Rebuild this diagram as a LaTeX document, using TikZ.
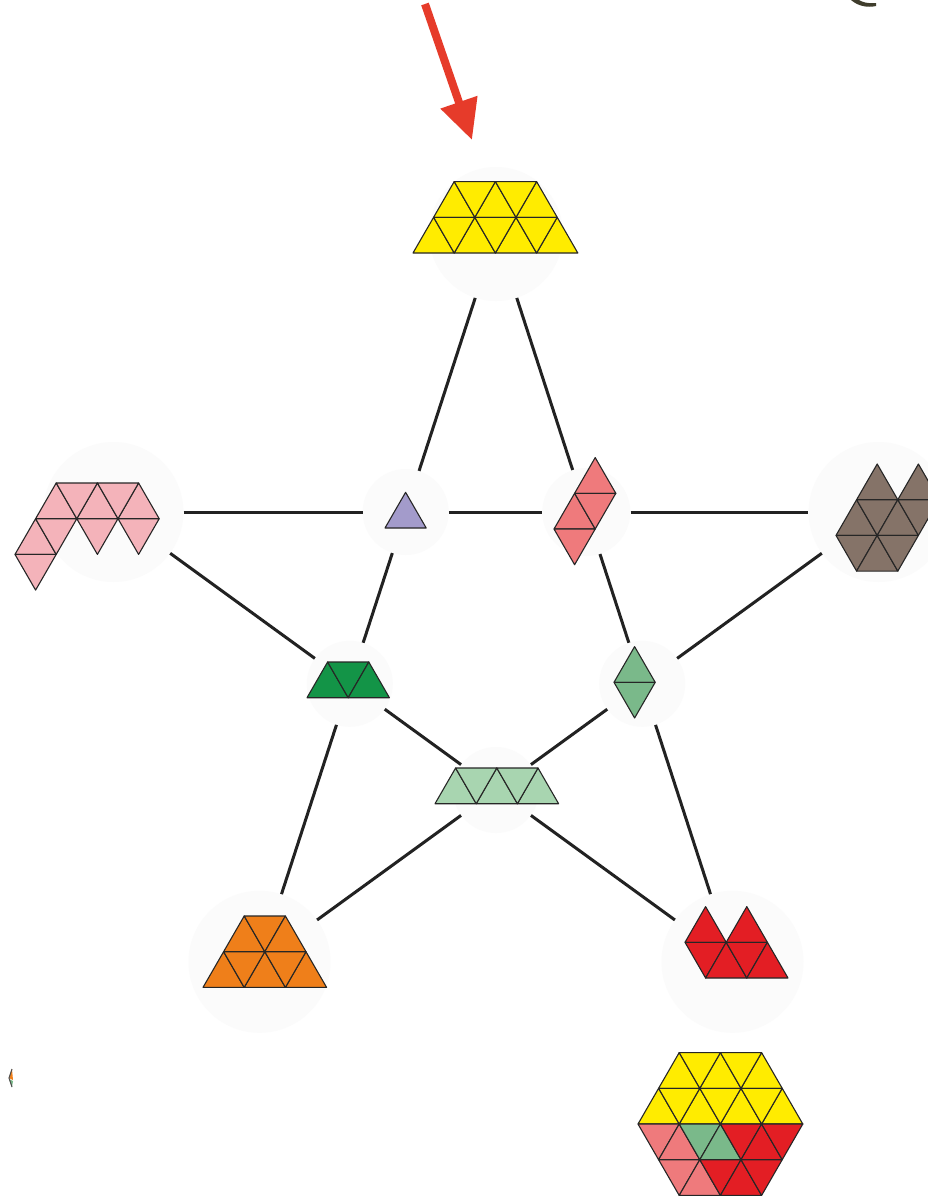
\documentclass[tikz,border=0pt]{standalone}
\usetikzlibrary{arrows.meta}
\definecolor{yel}{HTML}{FFEC00}
\definecolor{lpink}{HTML}{F4B3BA}
\definecolor{purp}{HTML}{A39BCB}
\definecolor{salmon}{HTML}{EF7A7C}
\definecolor{brn}{HTML}{857368}
\definecolor{dgreen}{HTML}{139447}
\definecolor{mgreen}{HTML}{7AB98A}
\definecolor{lgreen}{HTML}{A8D5B0}
\definecolor{orng}{HTML}{EF7F1A}
\definecolor{rd}{HTML}{E31E24}
\definecolor{arrowred}{HTML}{E63B2A}
\definecolor{linegray}{HTML}{222222}
\definecolor{olive}{HTML}{3F3D2C}
\definecolor{halogray}{HTML}{FBFBFB}
\newcommand\triU[3]{\filldraw[tri,fill=#1] ({#2*20.6},{(#3+1)*35.7}) -- ++(41.2,0) -- ++(-20.6,-35.7) -- cycle;}
\newcommand\triD[3]{\filldraw[tri,fill=#1] ({#2*20.6},{#3*35.7}) -- ++(41.2,0) -- ++(-20.6,35.7) -- cycle;}
\tikzset{
  tri/.style={draw=black!85, line width=1.1pt, line join=round},
  halo/.style={circle, fill=halogray, draw=none, inner sep=0pt},
  conn/.style={draw=linegray, line width=3pt},
}
\begin{document}
\begin{tikzpicture}[x=1pt,y=-1pt]
\useasboundingbox (0,0) rectangle (928,1197);
\clip (0,0) rectangle (928,1197);
\fill[white] (0,0) rectangle (928,1197);
% halo nodes
\node[halo,minimum size=134pt] (Y) at (496,234) {};
\node[halo,minimum size=140pt] (Pk) at (113.4,512) {};
\node[halo,minimum size=140pt] (Br) at (878.6,512) {};
\node[halo,minimum size=142pt] (O) at (259.5,961.8) {};
\node[halo,minimum size=142pt] (R) at (732.5,961.8) {};
\node[halo,minimum size=86pt] (Pu) at (405.7,512) {};
\node[halo,minimum size=88pt] (Pa) at (586.3,512) {};
\node[halo,minimum size=86pt] (DG) at (349.8,683.8) {};
\node[halo,minimum size=86pt] (Di) at (642.2,683.8) {};
\node[halo,minimum size=86pt] (LT) at (496,790) {};
% connectors
\draw[conn] (Y) -- (Pu);
\draw[conn] (Pu) -- (DG);
\draw[conn] (DG) -- (O);
\draw[conn] (Y) -- (Pa);
\draw[conn] (Pa) -- (Di);
\draw[conn] (Di) -- (R);
\draw[conn] (Pk) -- (Pu);
\draw[conn] (Pu) -- (Pa);
\draw[conn] (Pa) -- (Br);
\draw[conn] (Pk) -- (DG);
\draw[conn] (DG) -- (LT);
\draw[conn] (LT) -- (R);
\draw[conn] (Br) -- (Di);
\draw[conn] (Di) -- (LT);
\draw[conn] (LT) -- (O);
% yellow trapezoid
\begin{scope}[shift={(413,181.6)}]
\foreach \i in {1,3,5} {\triU{yel}{\i}{0}}
\foreach \i in {2,4} {\triD{yel}{\i}{0}}
\foreach \i in {0,2,4,6} {\triU{yel}{\i}{1}}
\foreach \i in {1,3,5} {\triD{yel}{\i}{1}}
\end{scope}
% light pink piece
\begin{scope}[shift={(15,483)}]
\foreach \i in {1,3,5} {\triU{lpink}{\i}{0}}
\foreach \i in {2,4} {\triD{lpink}{\i}{0}}
\triU{lpink}{0}{1}
\foreach \i in {1,3,5} {\triD{lpink}{\i}{1}}
\triD{lpink}{0}{2}
\end{scope}
% purple triangle
\begin{scope}[shift={(385,492.3)}]
\triU{purp}{0}{0}
\end{scope}
% salmon parallelogram
\begin{scope}[shift={(554,457.6)}]
\triU{salmon}{1}{0}
\triU{salmon}{0}{1}
\triD{salmon}{1}{1}
\triD{salmon}{0}{2}
\end{scope}
% brown piece
\begin{scope}[shift={(836,464)}]
\triU{brn}{1}{0}
\triU{brn}{3}{0}
\triU{brn}{0}{1}
\triD{brn}{1}{1}
\triU{brn}{2}{1}
\triD{brn}{3}{1}
\triD{brn}{0}{2}
\triU{brn}{1}{2}
\triD{brn}{2}{2}
\end{scope}
% dark green trapezoid
\begin{scope}[shift={(307,662)}]
\triU{dgreen}{0}{0}
\triD{dgreen}{1}{0}
\triU{dgreen}{2}{0}
\end{scope}
% mid green diamond
\begin{scope}[shift={(614,646.6)}]
\triU{mgreen}{0}{0}
\triD{mgreen}{0}{1}
\end{scope}
% light green trapezoid
\begin{scope}[shift={(435,768)}]
\foreach \i in {0,2,4} {\triU{lgreen}{\i}{0}}
\foreach \i in {1,3} {\triD{lgreen}{\i}{0}}
\end{scope}
% orange piece
\begin{scope}[shift={(203,916)}]
\triU{orng}{1}{0}
\triD{orng}{2}{0}
\triU{orng}{3}{0}
\foreach \i in {0,2,4} {\triU{orng}{\i}{1}}
\foreach \i in {1,3} {\triD{orng}{\i}{1}}
\end{scope}
% red piece
\begin{scope}[shift={(685,906.6)}]
\triU{rd}{0}{0}
\triU{rd}{2}{0}
\triD{rd}{0}{1}
\triU{rd}{1}{1}
\triD{rd}{2}{1}
\triU{rd}{3}{1}
\end{scope}
% hexagon
\begin{scope}[shift={(638,1052.6)}]
\foreach \i in {1,3,5} {\triU{yel}{\i}{0}}
\foreach \i in {2,4} {\triD{yel}{\i}{0}}
\foreach \i in {0,2,4,6} {\triU{yel}{\i}{1}}
\foreach \i in {1,3,5} {\triD{yel}{\i}{1}}
\triD{salmon}{0}{2}
\triU{salmon}{1}{2}
\triD{mgreen}{2}{2}
\triU{mgreen}{3}{2}
\triD{rd}{4}{2}
\triU{rd}{5}{2}
\triD{rd}{6}{2}
\triD{salmon}{1}{3}
\triU{salmon}{2}{3}
\triD{rd}{3}{3}
\triU{rd}{4}{3}
\triD{rd}{5}{3}
\end{scope}
% red arrow
\coordinate (aS) at (425,4);
\coordinate (aT) at (472,140);
\draw[arrowred, line width=8pt, -{Triangle[length=40pt,width=37pt]}] (aS) -- (aT);
% corner stroke top right
\fill[olive] (851,0) .. controls (858,6) and (867,8) .. (876,6) -- (876,3) .. controls (868,4) and (862,2) .. (859,0) -- cycle;
% tiny sliver at left
\fill[orng] (12,1069) -- (13,1080) -- (9,1078) -- cycle;
\fill[mgreen] (9,1079) -- (13,1081) -- (12,1087) -- cycle;
\draw[black!70, line width=1pt] (12,1069) -- (9,1078) -- (12,1087);
\end{tikzpicture}
\end{document}
